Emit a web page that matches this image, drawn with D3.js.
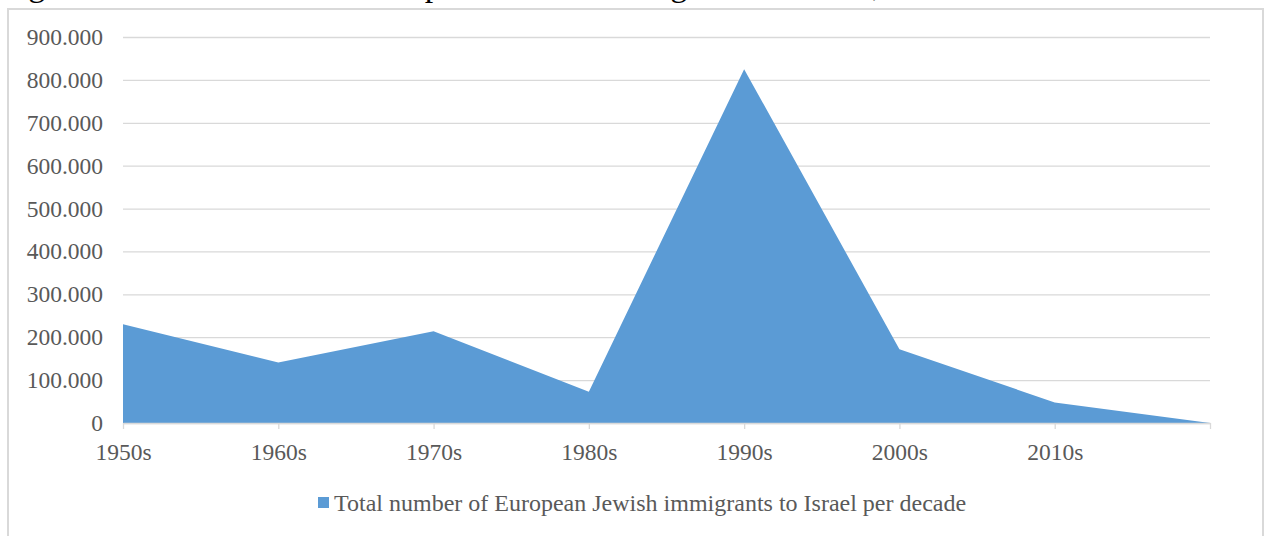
<!DOCTYPE html>
<html>
<head>
<meta charset="utf-8">
<script src="https://cdn.jsdelivr.net/npm/d3@7"></script>
<style>
  html, body { margin: 0; padding: 0; background: #fff; overflow: hidden; }
  svg { display: block; }
</style>
</head>
<body>
<svg id="chart" width="1265" height="536"></svg>
<script>
// Decades on the category axis (the final slot closes the area at zero)
const categories = ["1950s", "1960s", "1970s", "1980s", "1990s", "2000s", "2010s", ""];
// European Jewish immigrants to Israel, per decade
const immigrants = [230000, 141000, 214000, 73000, 825000, 172000, 48000, 0];
// Value axis ticks
const yTicks = [0, 100000, 200000, 300000, 400000, 500000, 600000, 700000, 800000, 900000];
const seriesName = "Total number of European Jewish immigrants to Israel per decade";
const captionText = "Figure 4: Total number of European Jewish immigrants to Israel, 1950-2019";

const W = 1265, H = 536;
const plot = { left: 123, right: 1210, top: 37, bottom: 423 };
const serif = "'Liberation Serif', 'Times New Roman', serif";
const textGrey = "#595959";
const gridGrey = "#D9D9D9";
const fillBlue = "#5B9BD5";
const axisFont = 23.5;
const legendFont = 24;

const svg = d3.select("#chart");

// Caption from the surrounding document, cut by the top edge
svg.append("text")
  .attr("x", 0).attr("y", -4.5)
  .attr("font-family", serif).attr("font-size", 34)
  .attr("fill", "#000")
  .text(captionText);

// Chart frame
svg.append("rect")
  .attr("x", 8).attr("y", 9)
  .attr("width", 1255).attr("height", 540)
  .attr("fill", "none").attr("stroke", gridGrey).attr("stroke-width", 2);

const x = d3.scalePoint().domain(categories).range([plot.left, plot.right]).padding(0);
const y = d3.scaleLinear().domain([0, 900000]).range([plot.bottom, plot.top]);

const euro = d3.formatLocale({ decimal: ",", thousands: ".", grouping: [3], currency: ["", ""] });
const fmt = euro.format(",");

// Horizontal gridlines + value labels
const yAxis = d3.axisLeft(y).tickValues(yTicks).tickFormat(fmt)
  .tickSize(-(plot.right - plot.left)).tickPadding(20);
const gy = svg.append("g").attr("transform", `translate(${plot.left},0)`).call(yAxis);
gy.select(".domain").remove();
gy.selectAll(".tick line").attr("stroke", gridGrey).attr("stroke-width", 1.3);
gy.selectAll(".tick text")
  .attr("font-family", serif).attr("font-size", axisFont).attr("fill", textGrey);

// Area
const area = d3.area()
  .x((d, i) => x(categories[i]))
  .y0(y(0))
  .y1(d => y(d));
svg.append("path")
  .datum(immigrants)
  .attr("d", area)
  .attr("fill", fillBlue);

// Category axis
const xAxis = d3.axisBottom(x).tickSize(6).tickPadding(14).tickSizeOuter(0);
const gx = svg.append("g").attr("transform", `translate(0,${plot.bottom})`).call(xAxis);
gx.select(".domain").attr("stroke", gridGrey).attr("stroke-width", 1.3);
gx.selectAll(".tick line").attr("stroke", gridGrey).attr("stroke-width", 1.3);
gx.selectAll(".tick text")
  .attr("font-family", serif).attr("font-size", axisFont).attr("fill", textGrey);

// Legend
const lg = svg.append("g");
lg.append("rect")
  .attr("x", 318).attr("y", 497).attr("width", 11).attr("height", 11)
  .attr("fill", fillBlue);
lg.append("text")
  .attr("x", 334).attr("y", 503).attr("dy", "0.35em")
  .attr("font-family", serif).attr("font-size", legendFont).attr("fill", textGrey)
  .text(seriesName);
</script>
</body>
</html>
